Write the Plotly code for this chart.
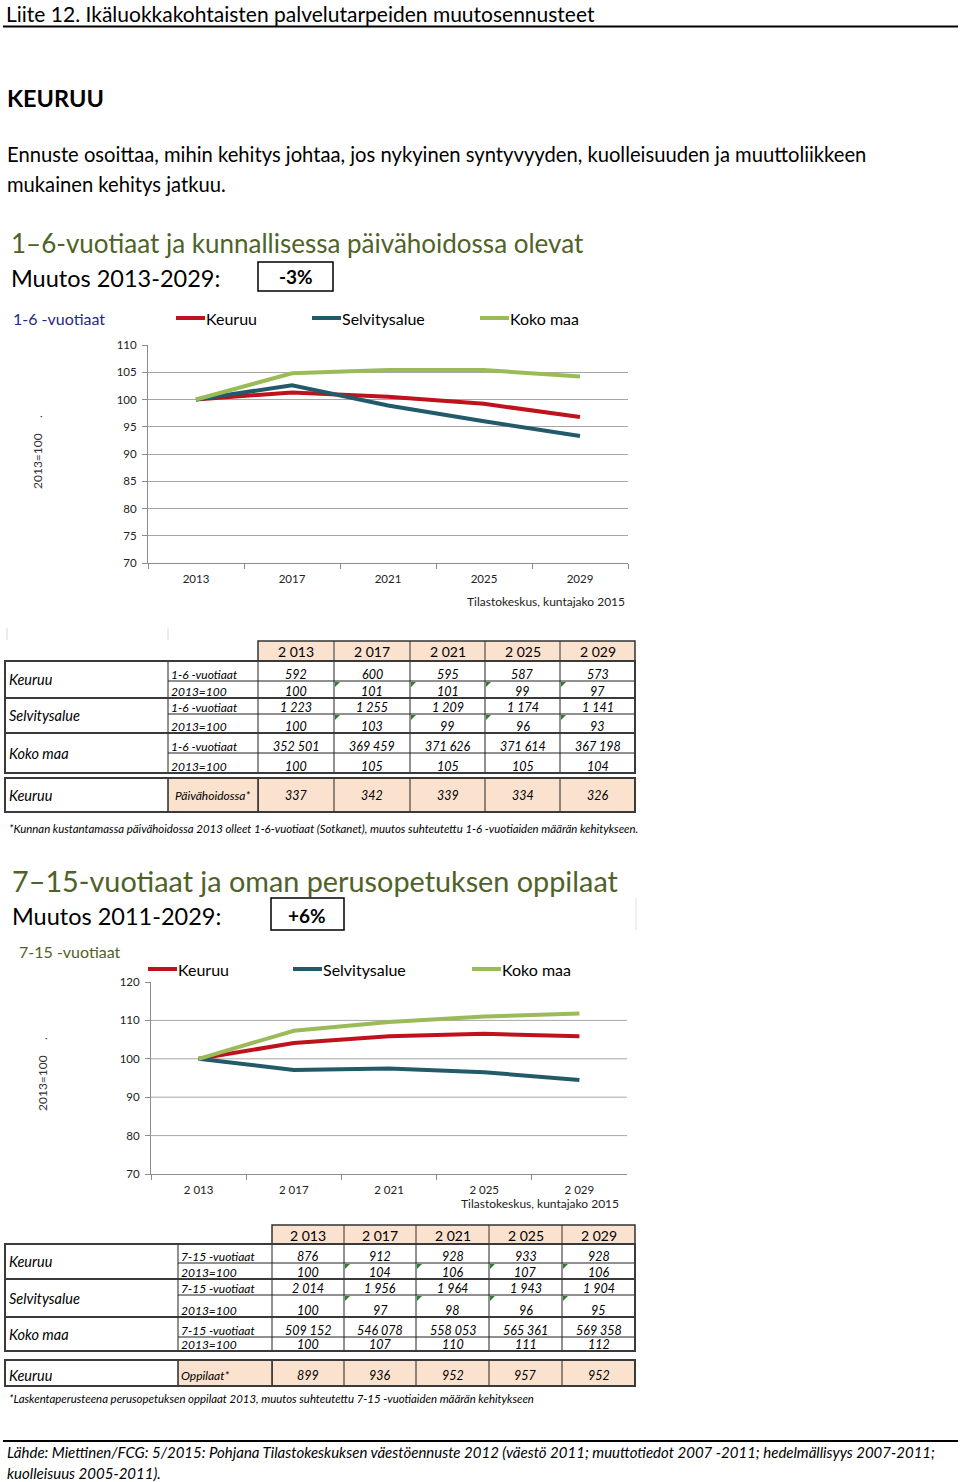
import plotly.graph_objects as go

W, H = 960, 1482
FONT = "Lato, 'Open Sans', sans-serif"

# ---------------- data ----------------
years = ["2013", "2017", "2021", "2025", "2029"]
years_c2 = ["2 013", "2 017", "2 021", "2 025", "2 029"]
years_tbl = ["2 013", "2 017", "2 021", "2 025", "2 029"]
series_names = ["Keuruu", "Selvitysalue", "Koko maa"]

# chart 1: 1-6 -vuotiaat, 2013=100
c1_keuruu = [100, 101.3, 100.5, 99.2, 96.8]
c1_selvitysalue = [100, 102.6, 98.9, 96.0, 93.3]
c1_koko_maa = [100, 104.8, 105.4, 105.4, 104.2]

# chart 2: 7-15 -vuotiaat, 2013=100
c2_keuruu = [100, 104.1, 105.9, 106.5, 105.9]
c2_selvitysalue = [100, 97.1, 97.5, 96.5, 94.5]
c2_koko_maa = [100, 107.3, 109.6, 111.0, 111.8]

# table 1
t1_keuruu_n = [592, 600, 595, 587, 573]
t1_keuruu_i = [100, 101, 101, 99, 97]
t1_selv_n = [1223, 1255, 1209, 1174, 1141]
t1_selv_i = [100, 103, 99, 96, 93]
t1_koko_n = [352501, 369459, 371626, 371614, 367198]
t1_koko_i = [100, 105, 105, 105, 104]
t1_paivahoidossa = [337, 342, 339, 334, 326]

# table 2
t2_keuruu_n = [876, 912, 928, 933, 928]
t2_keuruu_i = [100, 104, 106, 107, 106]
t2_selv_n = [2014, 1956, 1964, 1943, 1904]
t2_selv_i = [100, 97, 98, 96, 95]
t2_koko_n = [509152, 546078, 558053, 565361, 569358]
t2_koko_i = [100, 107, 110, 111, 112]
t2_oppilaat = [899, 936, 952, 957, 952]

COL_RED = "#C0121C"
COL_TEAL = "#225A6A"
COL_GREEN = "#9BBB59"
COL_TITLE = "#4F6228"
PEACH = "#FBE2CF"
colors = [COL_RED, COL_TEAL, COL_GREEN]


def X(px):
    return px / W


def Y(py):
    return 1 - py / H


def fmt(v):
    return f"{v:,}".replace(",", " ")


fig = go.Figure()
shapes = []
annos = []


def text(x, y, s, size, color="black", anchor="left", bold=False, italic=False, angle=0, pad=1):
    if bold:
        s = f"<b>{s}</b>"
    if italic:
        s = f"<i>{s}</i>"
    annos.append(dict(x=X(x), y=Y(y), xref="paper", yref="paper", text=s, showarrow=False,
                      xanchor=anchor, yanchor="middle", textangle=angle, borderpad=pad,
                      font=dict(family=FONT, size=size, color=color)))


def line(x0, y0, x1, y1, color="black", width=1):
    shapes.append(dict(type="line", xref="paper", yref="paper", x0=X(x0), y0=Y(y0), x1=X(x1), y1=Y(y1),
                       line=dict(color=color, width=width)))


def rect(x0, y0, x1, y1, fill=None, color="black", width=1):
    shapes.append(dict(type="rect", xref="paper", yref="paper", x0=X(x0), y0=Y(y0), x1=X(x1), y1=Y(y1),
                       fillcolor=fill if fill else "rgba(0,0,0,0)",
                       line=dict(color=color, width=width), layer="below" if fill else "above"))


def tri(x, y):
    path = f"M {X(x)},{Y(y)} L {X(x + 5)},{Y(y)} L {X(x)},{Y(y + 5)} Z"
    shapes.append(dict(type="path", xref="paper", yref="paper", path=path,
                       fillcolor="#2E7D32", line=dict(width=0)))


# ---------------- page header ----------------
text(5, 13.8, "Liite 12. Ikäluokkakohtaisten palvelutarpeiden muutosennusteet", 21, pad=0)
line(3, 26.5, 958, 26.5, "black", 2)
text(5, 98, "KEURUU", 23.5, bold=True)
text(5, 154, "Ennuste osoittaa, mihin kehitys johtaa, jos nykyinen syntyvyyden, kuolleisuuden ja muuttoliikkeen", 20.2)
text(5, 184, "mukainen kehitys jatkuu.", 20.2)

# ---------------- section 1 ----------------
text(9, 243, "1–6-vuotiaat ja kunnallisessa päivähoidossa olevat", 26, COL_TITLE)
text(9, 278, "Muutos 2013-2029:", 23.5)
rect(258, 262, 333, 291, None, "black", 1.5)
text(296, 277, "-3%", 19, anchor="center", bold=True)
text(11, 318, "1-6 -vuotiaat", 16, "#1F2A80")


def legend(y, xs):
    for name, col, x0 in zip(series_names, colors, xs):
        line(x0, y, x0 + 29, y, col, 4)
        text(x0 + 28, y, name, 16)


legend(318, [176, 312, 480])

for name, col, vals in zip(series_names, colors, [c1_keuruu, c1_selvitysalue, c1_koko_maa]):
    fig.add_trace(go.Scatter(x=years, y=vals, mode="lines", name=name, xaxis="x", yaxis="y",
                             line=dict(color=col, width=4), showlegend=False))
for name, col, vals in zip(series_names, colors, [c2_keuruu, c2_selvitysalue, c2_koko_maa]):
    fig.add_trace(go.Scatter(x=years_c2, y=vals, mode="lines", name=name,
                             xaxis="x2", yaxis="y2", line=dict(color=col, width=4), showlegend=False))

text(37, 452, "2013=100     .", 12, "#333", anchor="center", angle=-90)
text(627, 602, "Tilastokeskus, kuntajako 2015", 12, "#222", anchor="right")


# ---------------- tables ----------------
def table(cfg):
    hy0, hy1 = cfg["header"]
    cols = cfg["cols"]
    lx0, lx1, sx1 = cfg["left"]
    # header
    rect(cols[0], hy0, cols[-1], hy1, PEACH, "#333", 1.5)
    for c in cols[1:-1]:
        line(c, hy0, c, hy1, "#333", 1)
    for i, lab in enumerate(years_tbl):
        text((cols[i] + cols[i + 1]) / 2, (hy0 + hy1) / 2 + 1, lab, 14, anchor="center")
    # blocks
    for blk in cfg["blocks"]:
        by0, bmid, by1 = blk["y"]
        for c in [lx1, sx1] + cols[1:-1]:
            line(c, by0, c, by1, "#222", 1)
        line(lx1, bmid, cols[-1], bmid, "#222", 1)
        rect(lx0, by0, cols[-1], by1, None, "#3a3a3a", 2)
        text(lx0 + 2, (by0 + by1) / 2, blk["name"], 14.5, italic=True)
        for (ry1, sub, vals) in [(bmid, cfg["sub"], blk["n"]), (by1, "2013=100", blk["i"])]:
            text(lx1 + 1, ry1 - 7, sub, 12, italic=True)
            for i, v in enumerate(vals):
                text((cols[i] + cols[i + 1]) / 2, ry1 - 7, fmt(v), 12.5, italic=True, anchor="center")
        if blk.get("tri"):
            for c in cols[1:-1]:
                tri(c + 1, bmid + 1)
    # extra row
    ey0, ey1 = cfg["extra_y"]
    rect(sx1 - 0, ey0, cols[-1], ey1, PEACH, "#333", 1)
    rect(lx1, ey0, sx1, ey1, PEACH, "#333", 1)
    for c in [lx1, sx1] + cols[1:-1]:
        line(c, ey0, c, ey1, "#222", 1)
    rect(lx0, ey0, cols[-1], ey1, None, "#3a3a3a", 2)
    cy = (ey0 + ey1) / 2 + cfg.get("extra_dy", 0)
    text(lx0 + 2, cy, "Keuruu", 14.5, italic=True)
    text(cfg.get("extra_lab_x", lx1 + 1), cy, cfg["extra_label"], 12, italic=True,
         anchor=cfg.get("extra_anchor", "left"))
    for i, v in enumerate(cfg["extra"]):
        text((cols[i] + cols[i + 1]) / 2, cy, fmt(v), 12.5, italic=True, anchor="center")


# faint sheet marks above table 1
for xx in [7, 168]:
    line(xx, 628, xx, 640, "#d8d8d8", 1)

table(dict(
    header=(641, 661), cols=[258, 334, 410, 485, 560, 635], left=(5, 168, 258),
    sub="1-6 -vuotiaat",
    blocks=[
        dict(name="Keuruu", y=(661, 681, 698), n=t1_keuruu_n, i=t1_keuruu_i, tri=True),
        dict(name="Selvitysalue", y=(698, 714, 733), n=t1_selv_n, i=t1_selv_i, tri=True),
        dict(name="Koko maa", y=(733, 753, 773), n=t1_koko_n, i=t1_koko_i),
    ],
    extra_y=(778, 812), extra_label="Päivähoidossa*", extra=t1_paivahoidossa,
    extra_lab_x=212, extra_anchor="center",
))
text(7, 828, "*Kunnan kustantamassa päivähoidossa 2013 olleet 1-6-vuotiaat (Sotkanet), muutos suhteutettu 1-6 -vuotiaiden määrän kehitykseen.",
     11.4, italic=True)

# ---------------- section 2 ----------------
text(10, 881, "7–15-vuotiaat ja oman perusopetuksen oppilaat", 28.8, COL_TITLE)
text(10, 916, "Muutos 2011-2029:", 23.5)
rect(271, 898, 344, 930, None, "black", 1.5)
text(307, 916, "+6%", 19, anchor="center", bold=True)
line(636, 898, 636, 930, "#e0e0e0", 1)
text(17, 951, "7-15 -vuotiaat", 16, COL_TITLE)
legend(969, [148, 293, 472])
text(42, 1074, "2013=100     .", 12, "#333", anchor="center", angle=-90)
text(621, 1203, "Tilastokeskus, kuntajako 2015", 12, "#222", anchor="right")

table(dict(
    header=(1225, 1244), cols=[272, 344, 416, 489, 562, 635], left=(5, 178, 272),
    sub="7-15 -vuotiaat",
    blocks=[
        dict(name="Keuruu", y=(1244, 1263, 1279), n=t2_keuruu_n, i=t2_keuruu_i, tri=True),
        dict(name="Selvitysalue", y=(1279, 1295, 1317), n=t2_selv_n, i=t2_selv_i, tri=True),
        dict(name="Koko maa", y=(1317, 1337, 1351), n=t2_koko_n, i=t2_koko_i),
    ],
    extra_y=(1360, 1386), extra_label="Oppilaat*", extra=t2_oppilaat, extra_dy=2,
))
text(7, 1398, "*Laskentaperusteena perusopetuksen oppilaat 2013, muutos suhteutettu 7-15 -vuotiaiden määrän kehitykseen",
     11.4, italic=True)

# ---------------- footer ----------------
line(3, 1441, 958, 1441, "black", 2)
text(5, 1452, "Lähde: Miettinen/FCG: 5/2015: Pohjana Tilastokeskuksen väestöennuste 2012 (väestö 2011; muuttotiedot 2007 -2011; hedelmällisyys 2007-2011;",
     15, italic=True)
text(5, 1473, "kuolleisuus 2005-2011).", 15, italic=True)

# chart 2 gridlines (no gridline at 120)
for gv in [80, 90, 100, 110]:
    shapes.append(dict(type="line", xref="x2 domain", yref="y2", x0=0, x1=1, y0=gv, y1=gv,
                       line=dict(color="#A6A6A6", width=1), layer="below"))

axis_common = dict(showline=True, linecolor="#8c8c8c", linewidth=1, ticks="outside", tickcolor="#8c8c8c",
                   ticklen=5, tickfont=dict(family=FONT, size=11.5, color="#222"), zeroline=False,
                   fixedrange=True)

fig.update_layout(
    width=W, height=H, margin=dict(l=0, r=0, t=0, b=0, pad=0, autoexpand=False),
    paper_bgcolor="white", plot_bgcolor="white", showlegend=False,
    xaxis=dict(domain=[X(148), X(628)], anchor="y", type="category", tickson="boundaries", showgrid=False,
               range=[-0.5, 4.5], ticklabelstandoff=5, **axis_common),
    yaxis=dict(domain=[Y(563), Y(345)], anchor="x", range=[70, 110], dtick=5, showgrid=True,
               gridcolor="#A6A6A6", gridwidth=1, ticklabelstandoff=3, **axis_common),
    xaxis2=dict(domain=[X(151), X(627)], anchor="y2", type="category", tickson="boundaries", showgrid=False,
                range=[-0.5, 4.5], ticklabelstandoff=5, **axis_common),
    yaxis2=dict(domain=[Y(1174), Y(982)], anchor="x2", range=[70, 120], dtick=10, showgrid=False,
                ticklabelstandoff=3, **axis_common),
    shapes=shapes, annotations=annos,
)

fig.write_html("out.html", post_script="document.body.style.margin='0';",
               config={"displayModeBar": False})
